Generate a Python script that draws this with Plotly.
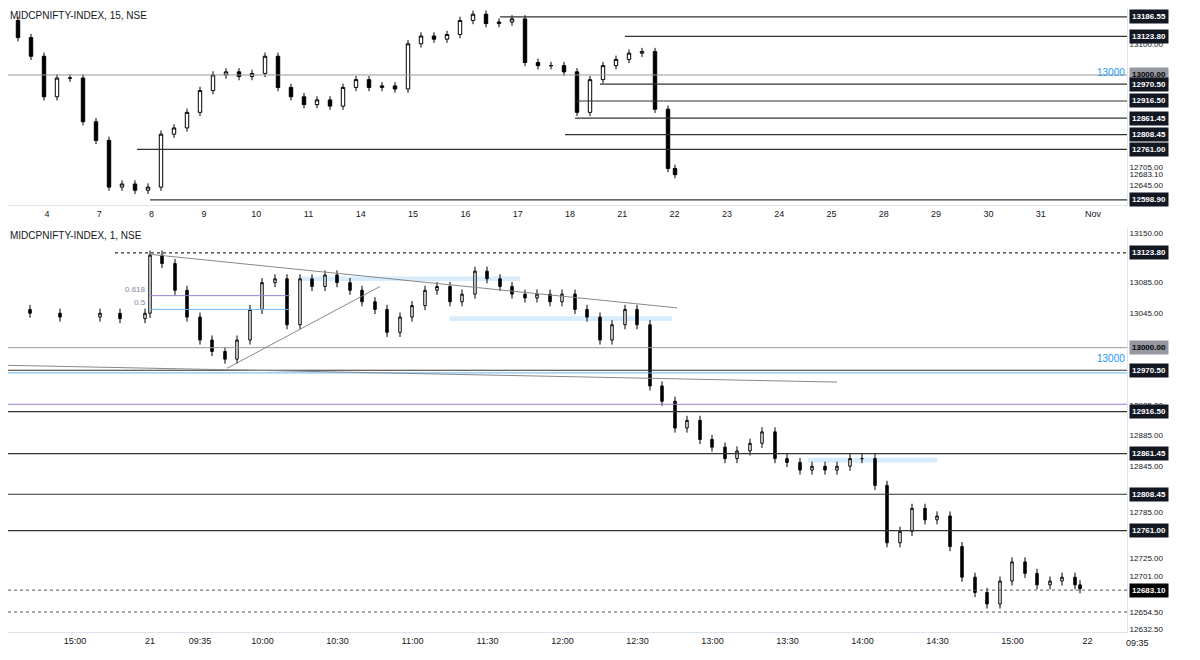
import plotly.graph_objects as go
import numpy as np

# ---------- top panel (15 min), x in trading-day index (Oct 4 = 0) ----------
top_px = [5,18,31,44,57,70,83,96,109,122,135,148,161,174,187,200,213,226,239,252,265,278,291,304,317,330,343,356,369,382,395,408,421,434,447,460,473,486,499,512,525,538,551,564,577,590,603,616,629,642,655,668,675]
top_close = [13175,13120,13060,12930,12990,12990,12850,12790,12640,12650,12630,12640,12810,12830,12880,12950,13000,13010,12995,13005,13060,12960,12930,12905,12920,12900,12960,12985,12960,12965,12955,13100,13125,13115,13130,13175,13195,13165,13170,13180,13040,13030,13030,13010,12880,12985,13030,13050,13070,13075,12890,12700,12680]
top_ticks = ["4","7","8","9","10","11","14","15","16","17","18","21","22","23","24","25","28","29","30","31","Nov","4"]
top_levels = [13186.55,13123.80,12970.50,12916.50,12861.45,12808.45,12761.00,12598.90]
top_level_start_px = [500,625,600,575,575,565,137,150]
top_axis_vals = [13100.00,12705.00,12683.10,12645.00]

# ---------- bottom panel (1 min), x in minutes since 09:15 on 21 ----------
bot_px = [5,30,60,100,120,145,150,162,175,187,200,212,225,237,250,262,275,287,300,312,325,337,350,362,375,387,400,412,425,437,450,462,475,487,500,512,525,537,550,562,575,587,600,612,625,637,650,662,675,687,700,712,725,737,750,762,775,787,800,812,825,837,850,862,875,887,900,912,925,937,950,962,975,987,1000,1012,1025,1037,1050,1062,1075,1080]
bot_close = [13050,13045,13040,13045,13038,13045,13121,13110,13075,13040,13010,12995,12985,13010,13050,13085,13090,13030,13090,13080,13095,13085,13075,13060,13050,13020,13040,13055,13075,13080,13060,13070,13100,13090,13080,13070,13065,13070,13060,13070,13050,13040,13010,13030,13050,13030,12950,12930,12895,12905,12880,12870,12855,12865,12875,12890,12855,12850,12840,12845,12840,12845,12855,12855,12820,12745,12760,12790,12775,12780,12740,12700,12680,12665,12695,12720,12705,12690,12695,12700,12690,12685]
bot_tickvals = [-30,0,20,45,75,105,135,165,195,225,255,285,315,345,375]
bot_ticktext = ["15:00","21","09:35","10:00","10:30","11:00","11:30","12:00","12:30","13:00","13:30","14:00","14:30","15:00","22"]
bot_levels = [13123.80,12970.50,12916.50,12861.45,12808.45,12761.00]
bot_level_start_px = [115,0,0,0,0,0]
bot_axis_vals = [13150.00,13085.00,13045.00,12925.00,12885.00,12845.00,12785.00,12725.00,12701.00,12654.50,12632.50]
# highlighted zones (start px, end px, price)
zones = [(300, 520, 13090), (450, 672, 13038), (808, 937, 12853)]
# fib levels (name, price, colour)
fibs = [("0.618", 13068, "#9c7fd6"), ("0.5", 13050, "#64b5f6")]

def tday(px): return (px - 47) / 52.3
def bmin(px): return (px - 150) / 2.5

TX0, TX1 = tday(8), tday(1127)
BX0, BX1 = bmin(8), bmin(1127)

def ohlc(close, wick):
    c = np.array(close, float)
    o = np.concatenate([[c[0]], c[:-1]])
    h = np.maximum(o, c) + wick
    l = np.minimum(o, c) - wick
    return o, h, l, c

fig = go.Figure()
style = dict(increasing=dict(line=dict(color="black", width=1), fillcolor="white"),
             decreasing=dict(line=dict(color="black", width=1), fillcolor="black"), whiskerwidth=0)
o, h, l, c = ohlc(top_close, 12)
fig.add_trace(go.Candlestick(x=[tday(p) for p in top_px], open=o, high=h, low=l, close=c, xaxis="x", yaxis="y", **style))
o, h, l, c = ohlc(bot_close, 6)
fig.add_trace(go.Candlestick(x=[bmin(p) for p in bot_px], open=o, high=h, low=l, close=c, xaxis="x2", yaxis="y2", **style))

shapes, ann = [], []
def label(yref, v, bg="#131722", fc="white"):
    ann.append(dict(xref="paper", x=1.0, xanchor="left", xshift=2, yref=yref, y=v, text=f"<b>{v:.2f}</b>",
        showarrow=False, bgcolor=bg, font=dict(color=fc, size=8, family="Liberation Sans"), borderpad=2))

for z0, z1, p in zones:
    shapes.append(dict(type="rect", xref="x2", yref="y2", x0=bmin(z0), x1=bmin(z1), y0=p - 3, y1=p + 3, fillcolor="rgba(33,150,243,0.18)", line=dict(width=0), layer="below"))
for name, p, col in fibs:
    shapes.append(dict(type="line", xref="x2", yref="y2", x0=bmin(150), x1=bmin(290), y0=p, y1=p, line=dict(color=col, width=1)))
    ann.append(dict(xref="x2", x=bmin(148), xanchor="right", yref="y2", y=p, yanchor="bottom", text=name, showarrow=False, font=dict(color="#7e86a8", size=8)))

for v, s in zip(top_levels, top_level_start_px):
    shapes.append(dict(type="line", xref="x", yref="y", x0=tday(s), x1=TX1, y0=v, y1=v, line=dict(color="#333", width=1.2)))
shapes.append(dict(type="line", xref="x", yref="y", x0=TX0, x1=TX1, y0=13000, y1=13000, line=dict(color="#999", width=1)))
label("y", 13000.00, bg="#9598a1", fc="black")
for v in top_levels:
    label("y", v)
ann.append(dict(xref="paper", x=1.0, xanchor="right", yref="y", y=12985, yanchor="bottom", text="13000", showarrow=False, font=dict(color="#2196f3", size=10)))
for v, s in zip(bot_levels, bot_level_start_px):
    dash = "dot" if v == 13123.80 else "solid"
    shapes.append(dict(type="line", xref="x2", yref="y2", x0=bmin(s), x1=BX1, y0=v, y1=v, line=dict(color="#333", width=1.2, dash=dash)))
shapes.append(dict(type="line", xref="x2", yref="y2", x0=BX0, x1=BX1, y0=13000, y1=13000, line=dict(color="#999", width=1)))
label("y2", 13000.00, bg="#9598a1", fc="black")
for v in bot_levels:
    label("y2", v)
ann.append(dict(xref="paper", x=1.0, xanchor="right", yref="y2", y=12996, yanchor="top", text="13000", showarrow=False, font=dict(color="#2196f3", size=10)))
shapes.append(dict(type="line", xref="x2", yref="y2", x0=BX0, x1=BX1, y0=12926, y1=12926, line=dict(color="#9c7fd6", width=1)))
shapes.append(dict(type="line", xref="x2", yref="y2", x0=BX0, x1=BX1, y0=12967, y1=12967, line=dict(color="#64b5f6", width=1)))
for v in [12683.10, 12654.50]:
    shapes.append(dict(type="line", xref="x2", yref="y2", x0=BX0, x1=BX1, y0=v, y1=v, line=dict(color="#555", width=1, dash="dot")))
label("y2", 12683.10, bg="black")
trend_a = [(bmin(150), 13122), (bmin(677), 13052)]
trend_b = [(bmin(5), 12977), (bmin(837), 12955)]
trend_c = [(bmin(227), 12973), (bmin(380), 13080)]
for tr in [trend_a, trend_b, trend_c]:
    shapes.append(dict(type="line", xref="x2", yref="y2", x0=tr[0][0], y0=tr[0][1], x1=tr[1][0], y1=tr[1][1], line=dict(color="#888", width=1)))

ann.append(dict(xref="paper", yref="paper", x=0.0, y=1.0, xanchor="left", yanchor="top", text="MIDCPNIFTY-INDEX, 15, NSE", showarrow=False, font=dict(size=10, color="#131722")))
ann.append(dict(xref="paper", yref="paper", x=0.0, y=0.652, xanchor="left", yanchor="top", text="MIDCPNIFTY-INDEX, 1, NSE", showarrow=False, font=dict(size=10, color="#131722")))
ann.append(dict(xref="paper", yref="paper", x=1.0, xshift=10, y=0.0127, yshift=-4, xanchor="center", yanchor="top", text="09:35", showarrow=False, font=dict(size=9, color="#131722")))

ax_common = dict(showgrid=False, zeroline=False, rangeslider=dict(visible=False), tickfont=dict(size=9, color="#131722"), ticks="", showline=True, linecolor="#e0e3eb")
yax = dict(showgrid=False, zeroline=False, side="right", tickfont=dict(size=8, color="#131722"), showline=True, linecolor="#e0e3eb")
fig.update_layout(
    width=1192, height=652, margin=dict(l=0, r=73, t=0, b=20),
    paper_bgcolor="white", plot_bgcolor="white", showlegend=False,
    font=dict(family="Liberation Sans"),
    xaxis=dict(**ax_common, domain=[0, 1], anchor="y", range=[TX0, TX1], tickvals=list(range(len(top_ticks))), ticktext=top_ticks),
    yaxis=dict(**yax, domain=[0.688, 1], anchor="x", range=[12582, 13215], tickvals=top_axis_vals, ticktext=[f"{v:.2f}" for v in top_axis_vals]),
    xaxis2=dict(**ax_common, domain=[0, 1], anchor="y2", range=[BX0, BX1], tickvals=bot_tickvals, ticktext=bot_ticktext),
    yaxis2=dict(**yax, domain=[0.0127, 0.652], anchor="x2", range=[12628.4, 13156.5], tickvals=bot_axis_vals, ticktext=[f"{v:.2f}" for v in bot_axis_vals]),
    shapes=shapes, annotations=ann,
)
fig.write_html("out.html")
